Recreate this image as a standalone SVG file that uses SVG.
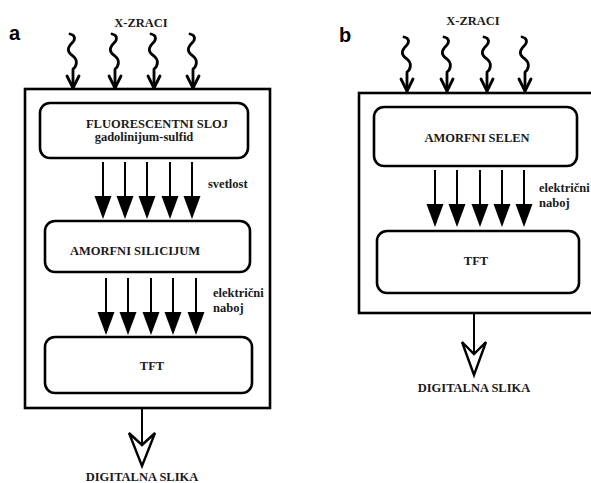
<svg xmlns="http://www.w3.org/2000/svg" width="591" height="483" viewBox="0 0 591 483">
<style>
.frame{fill:none;stroke:#000;stroke-width:2.6}
.box{fill:#fff;stroke:#000;stroke-width:2.6}
.t{font-family:"Liberation Serif","Times New Roman",serif;font-weight:bold;font-size:12.5px;fill:#1a1a1a}
.c{text-anchor:middle}
.lbl{font-family:"Liberation Sans",Arial,sans-serif;font-weight:bold;font-size:20px;fill:#000}
.wave{fill:none;stroke:#000;stroke-width:2.8;stroke-linecap:round;stroke-linejoin:round}
.shaft{stroke:#000;stroke-width:2}
.head{fill:#000}
.out{fill:#fff;stroke:#000;stroke-width:2.4;stroke-linejoin:miter}
</style>
<defs>
<g id="wv">
<path class="wave" d="M-3,0 C2,1 3,5 -1,9 C-6,14 -6,18 0,22 C5,26 4,32 0,35 L0,54"/>
<path class="wave" d="M-6,42 L0,54 L6,42"/>
</g>
<g id="fa">
<line class="shaft" x1="0" y1="0" x2="0" y2="36"/>
<path class="head" d="M-8.5,34 L8.5,34 L0,57 Z"/>
</g>
</defs>

<text class="lbl" x="9" y="40">a</text>
<text class="lbl" x="339" y="42">b</text>

<g id="panel-a">
<rect class="frame" x="25" y="89" width="245" height="319"/>
<text class="t c" x="141" y="27">X-ZRACI</text>
<g id="a-xrays">
<use href="#wv" x="73" y="34"/>
<use href="#wv" x="115" y="34"/>
<use href="#wv" x="154" y="34"/>
<use href="#wv" x="193" y="34"/>
</g>
<g id="a-fluor">
<rect class="box" x="40" y="103" width="208" height="55" rx="10"/>
<text class="t c" x="157" y="128" font-size="13">FLUORESCENTNI SLOJ</text>
<text class="t c" x="144" y="141">gadolinijum-sulfid</text>
</g>
<g id="a-light">
<use href="#fa" x="103" y="162"/>
<use href="#fa" x="125" y="162"/>
<use href="#fa" x="147" y="162"/>
<use href="#fa" x="170" y="162"/>
<use href="#fa" x="192" y="162"/>
<text class="t" x="208" y="188">svetlost</text>
</g>
<g id="a-silicij">
<rect class="box" x="45" y="221" width="205" height="51" rx="10"/>
<text class="t c" x="135" y="255">AMORFNI SILICIJUM</text>
</g>
<g id="a-charge">
<use href="#fa" x="106" y="278"/>
<use href="#fa" x="128" y="278"/>
<use href="#fa" x="151" y="278"/>
<use href="#fa" x="173" y="278"/>
<use href="#fa" x="196" y="278"/>
<text class="t" x="213" y="297">električni</text>
<text class="t" x="213" y="312">naboj</text>
</g>
<g id="a-tft">
<rect class="box" x="45" y="337" width="207" height="56" rx="10"/>
<text class="t c" x="152" y="370">TFT</text>
</g>
<g id="a-output">
<line class="shaft" x1="142" y1="408" x2="142" y2="445"/>
<path class="out" d="M129,433 L142,445 L155,433 L142,466 Z"/>
<text class="t c" x="142" y="481">DIGITALNA SLIKA</text>
</g>
</g>

<g id="panel-b">
<rect class="frame" x="359" y="93" width="240" height="220"/>
<text class="t c" x="473" y="25">X-ZRACI</text>
<g id="b-xrays">
<use href="#wv" x="407" y="37"/>
<use href="#wv" x="447" y="37"/>
<use href="#wv" x="487" y="37"/>
<use href="#wv" x="525" y="37"/>
</g>
<g id="b-selen">
<rect class="box" x="374" y="107" width="203" height="59" rx="10"/>
<text class="t c" x="477" y="142">AMORFNI SELEN</text>
</g>
<g id="b-charge">
<use href="#fa" x="435" y="170"/>
<use href="#fa" x="457" y="170"/>
<use href="#fa" x="480" y="170"/>
<use href="#fa" x="502" y="170"/>
<use href="#fa" x="524" y="170"/>
<text class="t" x="539" y="192">električni</text>
<text class="t" x="539" y="207">naboj</text>
</g>
<g id="b-tft">
<rect class="box" x="377" y="231" width="202" height="62" rx="10"/>
<text class="t c" x="476" y="265">TFT</text>
</g>
<g id="b-output">
<line class="shaft" x1="474" y1="313" x2="474" y2="354"/>
<path class="out" d="M462,342 L474,354 L486,342 L474,375 Z"/>
<text class="t c" x="474" y="392">DIGITALNA SLIKA</text>
</g>
</g>
</svg>
